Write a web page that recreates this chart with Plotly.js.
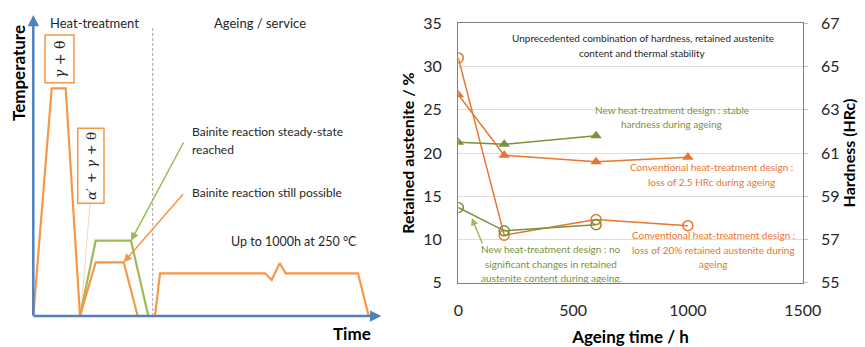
<!DOCTYPE html>
<html><head><meta charset="utf-8">
<script src="https://cdn.plot.ly/plotly-3.0.1.min.js"></script>
<style>html,body{margin:0;padding:0;background:#fff}#chart{width:865px;height:347px}</style>
</head><body><div id="chart"></div>
<script>
// ---- Right panel data (ageing experiment) ----
const ageingTime = [0, 200, 600, 1000];
const ageingTimeNew = [0, 200, 600];
const raConventional = [31.0, 10.5, 12.3, 11.6];   // retained austenite, %
const raNew = [13.7, 11.0, 11.7];
const hrcConventional = [63.7, 60.9, 60.6, 60.8];  // hardness, HRc
const hrcNew = [61.5, 61.4, 61.8];
const xTicks = [0, 500, 1000, 1500];
const raTicks = [5, 10, 15, 20, 25, 30, 35];
const hrcTicks = [55, 57, 59, 61, 63, 65, 67];

// ---- Left panel schematic (arbitrary time / temperature units) ----
const htTime = [0, 18.4, 32.4, 46.7];
const htTemp = [0, 227.7, 227.7, 0];
const bainOrTime = [46.7, 62.4, 90.4, 104.4];
const bainOrTemp = [0, 53.7, 53.7, 0];
const bainGrTime = [46.7, 62.4, 97.7, 115];
const bainGrTemp = [0, 75.3, 75.3, 0];
const ageTime = [121.7, 126.7, 231.7, 238.4, 246.4, 252.4, 324.7, 335.4];
const ageTemp = [0, 42.7, 42.7, 36, 52.7, 42.7, 42.7, 0];
const dividerTime = [119.4, 119.4];
const dividerTemp = [0, 289];
const leaderTime = [56.7, 47.7];
const leaderTemp = [113, 3];

const W = 865, H = 347;
const px = x => x / W, py = y => 1 - y / H;
const FONT = 'Lato, "Open Sans", sans-serif';
const ORL = '#F79646', GRL = '#9BBB59', BLUE = '#4F81BD';
const ORR = '#E8762D', GRR = '#77933C', TXT = '#262626';

const traces = [
  // schematic
  {x: dividerTime, y: dividerTemp, xaxis: 'x3', yaxis: 'y3', mode: 'lines', line: {color: '#A6A6A6', width: 1, dash: '3px,2px'}, hoverinfo: 'skip'},
  {x: leaderTime, y: leaderTemp, xaxis: 'x3', yaxis: 'y3', mode: 'lines', line: {color: '#FAC7A0', width: 0.8}, hoverinfo: 'skip'},
  {x: htTime, y: htTemp, xaxis: 'x3', yaxis: 'y3', mode: 'lines', line: {color: ORL, width: 2.2}},
  {x: bainGrTime, y: bainGrTemp, xaxis: 'x3', yaxis: 'y3', mode: 'lines', line: {color: GRL, width: 2.2}},
  {x: bainOrTime, y: bainOrTemp, xaxis: 'x3', yaxis: 'y3', mode: 'lines', line: {color: ORL, width: 2.2}},
  {x: ageTime, y: ageTemp, xaxis: 'x3', yaxis: 'y3', mode: 'lines', line: {color: ORL, width: 2.2}},
  // right chart
  {x: ageingTime, y: hrcConventional, xaxis: 'x', yaxis: 'y2', mode: 'lines+markers', line: {color: ORR, width: 1.5}, marker: {symbol: 'triangle-up', size: 10, color: ORR}},
  {x: ageingTimeNew, y: hrcNew, xaxis: 'x', yaxis: 'y2', mode: 'lines+markers', line: {color: GRR, width: 1.5}, marker: {symbol: 'triangle-up', size: 10, color: GRR}},
  {x: ageingTime, y: raConventional, xaxis: 'x', yaxis: 'y', mode: 'lines+markers', line: {color: ORR, width: 1.5}, marker: {symbol: 'circle-open', size: 10, color: ORR, line: {width: 1.5}}},
  {x: ageingTimeNew, y: raNew, xaxis: 'x', yaxis: 'y', mode: 'lines+markers', line: {color: GRR, width: 1.5}, marker: {symbol: 'circle-open', size: 10, color: GRR, line: {width: 1.5}}}
];

const ann = [];
function txt(text, x, y, opt) {
  ann.push(Object.assign({text: text, xref: 'paper', yref: 'paper', x: px(x), y: py(y), showarrow: false,
    xanchor: 'center', yanchor: 'middle', font: {family: FONT, size: 12, color: TXT}}, opt || {}));
}
function lines(arr, x, y0, dy, opt) { arr.forEach((t, i) => txt(t, x, y0 + i * dy, opt)); }

// schematic texts
txt('<b>Temperature</b>', 18, 73, {textangle: -90, font: {family: FONT, size: 17, color: '#000'}});
txt('<b>Time</b>', 352, 333, {font: {family: FONT, size: 17, color: '#000'}});
txt('Heat-treatment', 94, 23, {font: {family: FONT, size: 13, color: TXT}});
txt('Ageing / service', 260, 23, {font: {family: FONT, size: 13, color: TXT}});
lines(['Bainite reaction steady-state', 'reached'], 190, 131.7, 17.6, {xanchor: 'left', font: {family: FONT, size: 12, color: TXT}});
txt('Bainite reaction still possible', 190, 192.7, {xanchor: 'left', font: {family: FONT, size: 12, color: TXT}});
txt('Up to 1000h at 250 °C', 294, 241.3, {font: {family: FONT, size: 12.5, color: TXT}});
// phase box labels
txt('<i>γ</i> + θ', 60, 59, {textangle: -90, font: {family: '"DejaVu Serif", serif', size: 14, color: TXT}});
txt('<i>α</i>′ + <i>γ</i> + θ', 91, 166, {textangle: -90, font: {family: '"DejaVu Serif", serif', size: 13.5, color: TXT}});

const shapes = [
  {type: 'rect', xref: 'paper', yref: 'paper', x0: px(45), x1: px(74), y0: py(82.7), y1: py(35), line: {color: ORL, width: 1.5}},
  {type: 'rect', xref: 'paper', yref: 'paper', x0: px(77.7), x1: px(104), y0: py(203.3), y1: py(128.3), line: {color: ORL, width: 1.5}}
];

// schematic arrows (axes + pointers)
function arr(x, y, ax, ay, color, width, head, size) {
  ann.push({text: '', xref: 'x3', yref: 'y3', axref: 'x3', ayref: 'y3', x: x, y: y, ax: ax, ay: ay,
    showarrow: true, arrowhead: head, arrowsize: size, arrowwidth: width, arrowcolor: color, standoff: 0, startstandoff: 0});
}
arr(0, 301, 0, -1, BLUE, 2.5, 2, 0.9);
arr(348, 0, -1, 0, BLUE, 2.5, 2, 0.9);
arr(97.7, 75.3, 151, 175, GRL, 1.5, 2, 1.1);
arr(90.4, 53.7, 151, 123.3, ORL, 1.5, 2, 1.1);

// right chart texts
const sm = s => ({font: {family: FONT, size: 10, color: s}});
lines(['Unprecedented combination of hardness, retained austenite', 'content and thermal stability'], 642.7, 38.3, 14.4, sm(TXT));
lines(['New heat-treatment design : stable', 'hardness during ageing'], 671.7, 110, 14.3, sm(GRR));
lines(['Conventional heat-treatment design :', 'loss of 2.5 HRc during ageing'], 711.7, 167.3, 14.4, sm(ORR));
lines(['Conventional heat-treatment design :', 'loss of 20% retained austenite during', 'ageing'], 713.3, 235.3, 14.5, sm(ORR));
lines(['New heat-treatment design : no', 'significant changes in retained', 'austenite content during ageing.'], 551, 249.3, 14.2, sm(GRR));
ann.push({text: '', xref: 'paper', yref: 'paper', x: px(471.7), y: py(218), ax: 11.3, ay: 27, showarrow: true,
  arrowhead: 2, arrowsize: 1, arrowwidth: 1.5, arrowcolor: GRL, standoff: 0});

const axFont = {family: FONT, size: 16, color: TXT};
const layout = {
  width: W, height: H, margin: {l: 0, r: 0, t: 0, b: 0}, paper_bgcolor: '#fff', plot_bgcolor: 'rgba(0,0,0,0)',
  showlegend: false, font: {family: FONT, color: TXT},
  xaxis: {domain: [px(458.3), px(802.7)], range: [0, 1500], tickvals: xTicks, showgrid: false, zeroline: false,
    showline: true, mirror: true, linecolor: '#808080', linewidth: 1.3, ticks: '', tickfont: axFont, ticklabelstandoff: 13,
    title: {text: '<b>Ageing time / h</b>', font: {family: FONT, size: 17, color: '#000'}, standoff: 14}, anchor: 'y'},
  yaxis: {domain: [py(282.7), py(23.3)], range: [5, 35], tickvals: raTicks, showgrid: true, gridcolor: '#DDDDDD', gridwidth: 1,
    zeroline: false, showline: true, mirror: true, linecolor: '#808080', linewidth: 1.3, ticks: '', tickfont: axFont,
    ticklabelstandoff: 12, title: {text: '<b>Retained austenite / %</b>', font: {family: FONT, size: 16, color: '#000'}, standoff: 4}, anchor: 'x'},
  yaxis2: {overlaying: 'y', side: 'right', anchor: 'x', range: [55, 67], tickvals: hrcTicks, showgrid: false, zeroline: false,
    showline: false, ticks: 'outside', ticklen: 4, tickcolor: '#BFBFBF', tickfont: axFont, ticklabelstandoff: 10,
    title: {text: '<b>Hardness (HRc)</b>', font: {family: FONT, size: 16, color: '#000'}, standoff: 3}},
  xaxis3: {domain: [0, px(432.5)], range: [-33.3, 399.2], visible: false, anchor: 'y3'},
  yaxis3: {domain: [0, 1], range: [-31, 316], visible: false, anchor: 'x3'},
  annotations: ann, shapes: shapes
};

Plotly.newPlot('chart', traces, layout, {displayModeBar: false, staticPlot: true});
</script></body></html>
